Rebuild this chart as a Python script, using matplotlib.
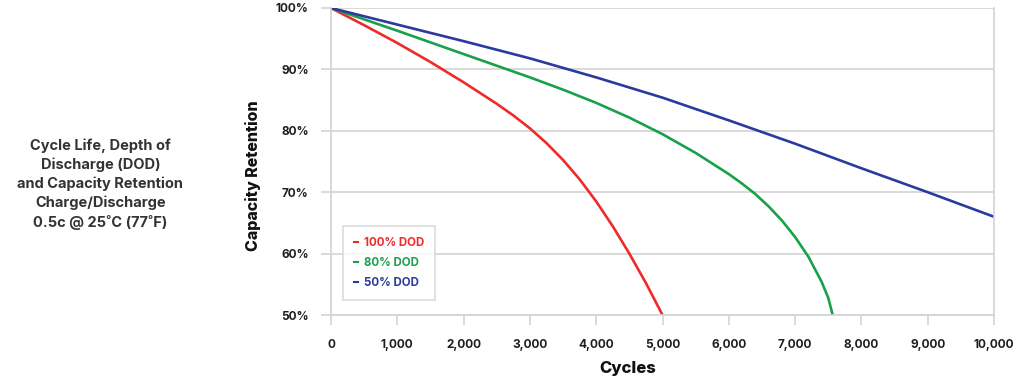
import matplotlib
matplotlib.use("Agg")
from matplotlib import pyplot as plt

plt.rcParams['font.family'] = ['Inter', 'DejaVu Sans']

# data
ciclos_100 = [0, 500, 1000, 1500, 2000, 2500, 2750, 3000, 3250, 3500, 3750, 4000, 4250, 4500, 4750, 5000]
ret_100 = [100, 97.2, 94.3, 91.2, 87.9, 84.4, 82.5, 80.4, 78.0, 75.25, 72.1, 68.5, 64.45, 60.0, 55.2, 50]

ciclos_80 = [0, 1000, 2000, 2500, 3000, 3500, 4000, 4500, 5000, 5500, 6000, 6200, 6400, 6600, 6800,
             7000, 7200, 7400, 7500, 7567]
ret_80 = [100, 96.3, 92.5, 90.6, 88.7, 86.7, 84.55, 82.15, 79.45, 76.4, 72.95, 71.4, 69.7, 67.7, 65.4,
          62.7, 59.5, 55.4, 52.8, 50]

ciclos_50 = [0, 1000, 2000, 3000, 4000, 5000, 6000, 7000, 8000, 9000, 10000]
ret_50 = [100, 97.3, 94.6, 91.8, 88.7, 85.4, 81.7, 77.9, 73.9, 70.0, 66.0]

series = [
    ("100% DOD", ciclos_100, ret_100, "#ee2a2a"),
    ("80% DOD", ciclos_80, ret_80, "#19a04a"),
    ("50% DOD", ciclos_50, ret_50, "#2b3a9e"),
]

fig = plt.figure(figsize=(10.24, 3.8), dpi=100)
ax = fig.add_axes([331 / 1024, 1 - 315 / 380, 663 / 1024, 307 / 380])

for nombre, x, y, color in series:
    ax.plot(x, y, color=color, lw=1.9, label=nombre)

ax.set_xlim(0, 10000)
ax.set_ylim(50, 100)
ax.set_xticks(range(0, 10001, 1000))
ax.set_xticklabels([f"{v:,}" for v in range(0, 10001, 1000)])
ax.set_yticks(range(50, 101, 10))
ax.set_yticklabels([f"{v}%" for v in range(50, 101, 10)])

gris = "#d3d3d3"
ax.grid(True, axis="y", color=gris, lw=1.2)
ax.set_axisbelow(True)
for lado, sp in ax.spines.items():
    sp.set_color(gris)
    sp.set_linewidth(1.2)
ax.spines["top"].set_visible(False)
ax.tick_params(axis="both", colors=gris, labelcolor="#1e1e1e", labelsize=8.5,
               length=7, width=1.2)
ax.tick_params(axis="x", pad=10)
ax.tick_params(axis="y", pad=9)
for lbl in ax.get_xticklabels() + ax.get_yticklabels():
    lbl.set_fontweight("bold")

fig.text(628 / 1024, 1 - 369 / 380, "Cycles", ha="center", va="center",
         fontsize=12, fontweight="heavy", color="#111111")
fig.text(253 / 1024, 1 - 176 / 380, "Capacity Retention", ha="center", va="center",
         rotation=90, fontsize=11.5, fontweight="heavy", color="#111111")

leg = ax.legend(loc="lower left", bbox_to_anchor=(0.018, 0.049), handlelength=0.4,
                handletextpad=0.5, labelcolor="linecolor", fancybox=False,
                borderpad=0.95, labelspacing=0.68, borderaxespad=0,
                prop={"weight": "bold", "size": 8.3})
leg.get_frame().set_edgecolor(gris)
leg.get_frame().set_linewidth(1.2)
for h in leg.get_lines():
    h.set_linewidth(1.5)

fig.text(0.098, 0.515,
         "Cycle Life, Depth of\nDischarge (DOD)\nand Capacity Retention\nCharge/Discharge\n0.5c @ 25˚C (77˚F)",
         ha="center", va="center", fontsize=10.5, fontweight="bold", color="#333333",
         linespacing=1.4)

fig.savefig("out.png", dpi=100)
